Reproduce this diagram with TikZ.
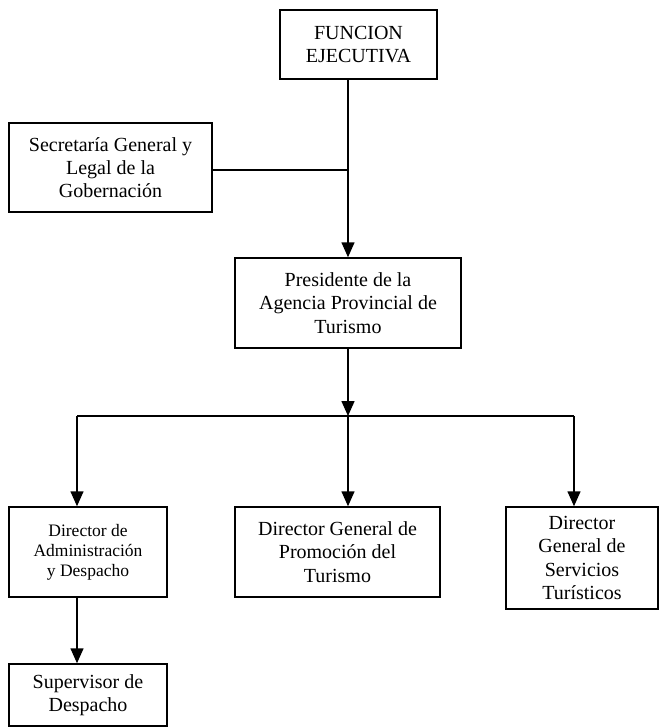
\documentclass[tikz,border=0pt]{standalone}
\usepackage{fontspec}
\setmainfont{Liberation Serif}
\usetikzlibrary{arrows.meta}
\begin{document}
\begin{tikzpicture}[x=1pt,y=1pt,
  box/.style={draw=black, line width=1.5pt, inner sep=0pt, align=center,
    font=\fontsize{20}{23.3}\selectfont},
  smallbox/.style={box, font=\fontsize{17.5}{20}\selectfont},
  conn/.style={line width=1.5pt},
  arr/.style={conn, -{Triangle[width=13pt,length=15pt]}}]
\useasboundingbox (0,0) rectangle (660,-728);
% boxes
\node[box, minimum width=157, minimum height=69] (fe) at (358.5,-44.5) {FUNCION\\EJECUTIVA};
\node[box, minimum width=203, minimum height=89] (sec) at (110.5,-167.5) {Secretaría General y\\Legal de la\\Gobernación};
\node[box, minimum width=226, minimum height=90] (pres) at (348,-303) {Presidente de la\\Agencia Provincial de\\Turismo};
\node[smallbox, minimum width=158, minimum height=90] (adm) at (88,-552) {Director de\\Administración\\y Despacho};
\node[box, minimum width=205, minimum height=90] (prom) at (337.5,-552) {Director General de\\Promoción del\\Turismo};
\node[box, minimum width=152, minimum height=102] (serv) at (582,-558) {Director\\General de\\Servicios\\Turísticos};
\node[box, minimum width=158, minimum height=62] (sup) at (88,-695) {Supervisor de\\Despacho};
% coordinates
\coordinate (tx) at (348,0);
\coordinate (j1) at (348,-170);
\coordinate (bus) at (348,-416);
\coordinate (bl) at (77,-416);
\coordinate (br) at (574,-416);
% connectors
\draw[arr] (fe.south -| tx) -- (pres.north -| tx);
\draw[conn] (sec.east |- j1) -- (j1);
\draw[arr] (pres.south -| tx) -- (bus);
\draw[conn] (bl) -- (br);
\draw[arr] (bl) -- (adm.north -| bl);
\draw[arr] (bus) -- (prom.north -| bus);
\draw[arr] (br) -- (serv.north -| br);
\draw[arr] (adm.south -| bl) -- (sup.north -| bl);
\end{tikzpicture}
\end{document}
